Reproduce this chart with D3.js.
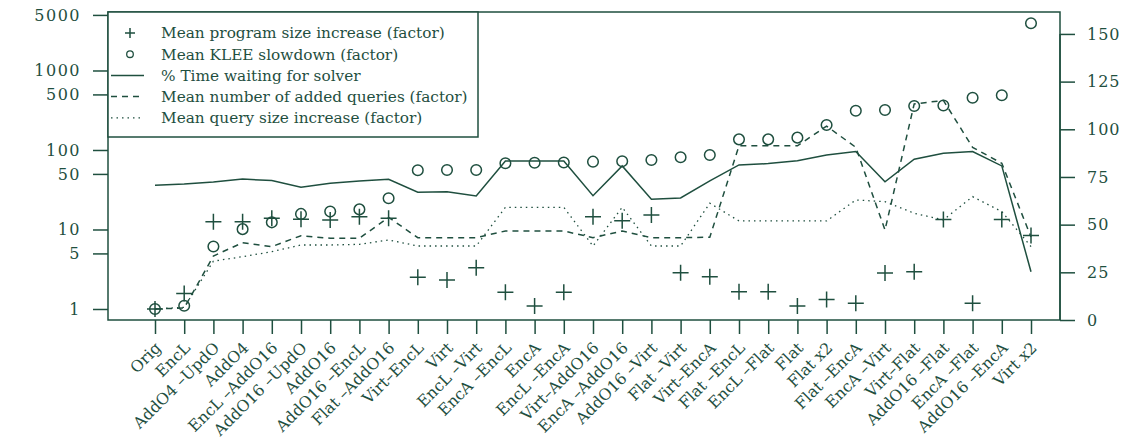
<!DOCTYPE html>
<html>
<head>
<meta charset="utf-8">
<script src="https://cdn.jsdelivr.net/npm/d3@7"></script>
<style>
  html, body { margin: 0; padding: 0; background: #ffffff; }
  svg { display: block; }
  text { font-family: "DejaVu Serif", serif; fill: #1f4f3f; }
</style>
</head>
<body>
<svg id="chart" width="1144" height="443"></svg>
<script>
const categories = ["Orig", "EncL", "AddO4 –UpdO", "AddO4", "EncL –AddO16", "AddO16 –UpdO", "AddO16",
  "AddO16 –EncL", "Flat –AddO16", "Virt–EncL", "Virt", "EncL –Virt", "EncA –EncL", "EncA", "EncL –EncA",
  "Virt–AddO16", "EncA –AddO16", "AddO16 –Virt", "Flat –Virt", "Virt–EncA", "Flat –EncL", "EncL –Flat",
  "Flat", "Flat x2", "Flat –EncA", "EncA –Virt", "Virt–Flat", "AddO16 –Flat", "EncA –Flat", "AddO16 –EncA", "Virt x2"];

const programSize = [1.0, 1.57, 12.5, 12.5, 13.8, 13.5, 13.2, 14.5, 13.8, 2.5, 2.32, 3.3, 1.62, 1.09, 1.62,
  14.5, 12.9, 15.2, 2.86, 2.55, 1.65, 1.65, 1.09, 1.32, 1.18, 2.83, 2.94, 13.4, 1.18, 13.4, 8.4];
const kleeSlowdown = [1.0, 1.1, 6.1, 10.1, 12.3, 15.7, 16.8, 17.9, 24.7, 55.5, 56, 56, 68, 69, 69.5,
  71.3, 72, 74.9, 81, 86.5, 136, 136, 143, 206, 312, 318, 357, 362, 455, 488, 3925];
const solverTime = [70.6, 71.3, 72.4, 73.9, 73.1, 69.6, 71.7, 72.9, 73.8, 67.0, 67.3, 65.0, 83.4, 83.4, 83.4,
  65.2, 80.8, 63.3, 64.0, 73.0, 81.3, 82.0, 83.5, 86.5, 88.3, 72.5, 84.3, 87.4, 88.3, 80.8, 25.3];
const addedQueries = [1.0, 1.03, 4.64, 6.83, 6.08, 8.36, 7.75, 7.75, 14.2, 7.89, 7.89, 7.89, 9.57, 9.57, 9.57,
  7.89, 9.57, 7.89, 7.89, 7.98, 113, 113, 113, 200, 108, 9.86, 380, 420, 108, 68, 8.05];
const querySize = [1.0, 1.05, 4.0, 4.55, 5.26, 6.38, 6.38, 6.5, 7.38, 6.2, 6.2, 6.2, 19, 19, 19,
  6.2, 19, 6.2, 6.2, 21.4, 12.8, 12.8, 12.8, 12.8, 23.5, 22.4, 16, 13.2, 25.9, 16.8, 6.1];

const leftTicks = [1, 5, 10, 50, 100, 500, 1000, 5000];
const rightTicks = [0, 25, 50, 75, 100, 125, 150];
const legendLabels = ["Mean program size increase (factor)", "Mean KLEE slowdown (factor)",
  "% Time waiting for solver", "Mean number of added queries (factor)", "Mean query size increase (factor)"];

const color = "#1f4f3f";
const svg = d3.select("#chart");
const box = { left: 108, right: 1060, top: 12, bottom: 320 };

const x = d3.scalePoint().domain(categories).range([155, 1031]);
const yLog = d3.scaleLog().domain([0.727, 5441]).range([box.bottom, box.top]);
const yLin = d3.scaleLinear().domain([0, 161.5]).range([box.bottom, box.top]);

// plot box
svg.append("rect").attr("x", box.left).attr("y", box.top)
  .attr("width", box.right - box.left).attr("height", box.bottom - box.top)
  .attr("fill", "none").attr("stroke", color).attr("stroke-width", 1.5);

// left axis
const gl = svg.append("g").attr("transform", `translate(${box.left},0)`)
  .call(d3.axisLeft(yLog).tickValues(leftTicks).tickFormat(d3.format("d")).tickSize(15).tickPadding(12));
gl.select(".domain").remove();
gl.selectAll(".tick line").attr("stroke", color).attr("stroke-width", 1.5);
gl.selectAll(".tick text").attr("fill", color).style("font-size", "16px").style("letter-spacing", "1.5px")
  .style("font-family", "DejaVu Serif, serif");

// right axis
const gr = svg.append("g").attr("transform", `translate(${box.right},0)`)
  .call(d3.axisRight(yLin).tickValues(rightTicks).tickSize(15).tickPadding(12));
gr.select(".domain").attr("stroke", color).attr("stroke-width", 1.5)
  .attr("d", `M0,${yLin(150)}V${yLin(0)}`);
gr.selectAll(".tick line").attr("stroke", color).attr("stroke-width", 1.5);
gr.selectAll(".tick text").attr("fill", color).style("font-size", "16px").style("letter-spacing", "1px")
  .style("font-family", "DejaVu Serif, serif");

// bottom axis
const gb = svg.append("g").attr("transform", `translate(0,${box.bottom})`)
  .call(d3.axisBottom(x).tickSize(14).tickFormat(""));
gb.select(".domain").remove();
gb.selectAll(".tick line").attr("stroke", color).attr("stroke-width", 1.5);

svg.append("g").selectAll("text").data(categories).join("text")
  .attr("transform", d => `translate(${x(d) + 3},345) rotate(-45)`)
  .attr("text-anchor", "end").attr("dy", "0.35em")
  .style("font-size", "15.8px")
  .text(d => d);

// lines
const idx = d3.range(categories.length);
const lineLog = arr => d3.line().x(i => x(categories[i])).y(i => yLog(arr[i]))(idx);
const lineLin = arr => d3.line().x(i => x(categories[i])).y(i => yLin(arr[i]))(idx);

svg.append("path").attr("d", lineLin(solverTime)).attr("fill", "none")
  .attr("stroke", color).attr("stroke-width", 1.5);
svg.append("path").attr("d", lineLog(addedQueries)).attr("fill", "none")
  .attr("stroke", color).attr("stroke-width", 1.5).attr("stroke-dasharray", "6,5");
svg.append("path").attr("d", lineLog(querySize)).attr("fill", "none")
  .attr("stroke", color).attr("stroke-width", 1.3).attr("stroke-dasharray", "1.5,4");

// points
svg.append("g").selectAll("path").data(idx).join("path")
  .attr("d", i => { const cx = x(categories[i]), cy = yLog(programSize[i]);
    return `M${cx - 8},${cy}H${cx + 8}M${cx},${cy - 8}V${cy + 8}`; })
  .attr("stroke", color).attr("stroke-width", 1.5).attr("fill", "none");
svg.append("g").selectAll("circle").data(idx).join("circle")
  .attr("cx", i => x(categories[i])).attr("cy", i => yLog(kleeSlowdown[i]))
  .attr("r", 5.3).attr("fill", "none").attr("stroke", color).attr("stroke-width", 1.5);

// legend
const lg = svg.append("g");
lg.append("rect").attr("x", box.left).attr("y", box.top).attr("width", 370).attr("height", 125)
  .attr("fill", "#ffffff").attr("stroke", color).attr("stroke-width", 1.5);
const rowY = i => 33 + i * 21.2;
legendLabels.forEach((lab, i) => {
  const cy = rowY(i);
  if (i === 0) {
    lg.append("path").attr("d", `M125,${cy}H135M130,${cy - 5}V${cy + 5}`)
      .attr("stroke", color).attr("stroke-width", 1.5);
  } else if (i === 1) {
    lg.append("circle").attr("cx", 130).attr("cy", cy).attr("r", 3.3)
      .attr("fill", "none").attr("stroke", color).attr("stroke-width", 1.3);
  } else {
    const dash = i === 2 ? null : (i === 3 ? "6,5" : "1.5,4");
    const p = lg.append("path").attr("d", `M111,${cy}H144`)
      .attr("stroke", color).attr("stroke-width", i === 4 ? 1.2 : 1.5);
    if (dash) p.attr("stroke-dasharray", dash);
  }
  lg.append("text").attr("x", 161).attr("y", cy).attr("dy", "0.35em")
    .style("font-size", "15.3px").text(lab);
});
</script>
</body>
</html>
